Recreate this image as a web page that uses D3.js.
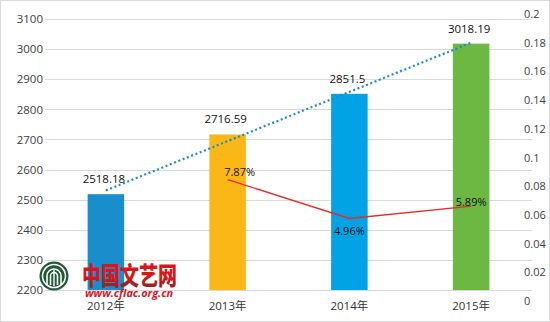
<!DOCTYPE html>
<html>
<head>
<meta charset="utf-8">
<script src="https://cdn.jsdelivr.net/npm/d3@7"></script>
<style>
  html, body { margin: 0; padding: 0; background: #fff; }
  svg { display: block; }
  text { font-family: "Open Sans", "Noto Sans CJK SC", sans-serif; }
</style>
</head>
<body>
<svg id="chart" width="550" height="322"></svg>
<script>
// Annual totals (bars) and year-on-year growth (red line)
const years = ["2012年", "2013年", "2014年", "2015年"];
const totals = [2518.18, 2716.59, 2851.5, 3018.19];
const totalLabels = ["2518.18", "2716.59", "2851.5", "3018.19"];
const barColors = ["#1a8dcd", "#fbb716", "#02a3e4", "#6db843"];
const growthYears = ["2013年", "2014年", "2015年"];
const growth = [0.0787, 0.0496, 0.0589];
const growthLabels = ["7.87%", "4.96%", "5.89%"];
const leftTicks = [2200, 2300, 2400, 2500, 2600, 2700, 2800, 2900, 3000, 3100];
const rightTicks = [0, 0.02, 0.04, 0.06, 0.08, 0.1, 0.12, 0.14, 0.16, 0.18, 0.2];

const svg = d3.select("#chart");
const W = 550, H = 322;
const plot = { left: 45, right: 532, top: 19, bottom: 290 };

// outer frame
svg.append("rect")
  .attr("x", 0.5).attr("y", 0.5)
  .attr("width", W - 1).attr("height", H - 1)
  .attr("fill", "#fff").attr("stroke", "#d9d9d9");

const x = d3.scaleBand()
  .domain(years)
  .range([plot.left, plot.right])
  .paddingInner(0.7)
  .paddingOuter(0.35);

const y = d3.scaleLinear().domain([2200, 3100]).range([plot.bottom, plot.top]);
const y2 = d3.scaleLinear().domain([0, 0.2]).range([285, 17]);
// secondary axis text sits on its own spacing
const y2Axis = d3.scaleLinear().domain([0, 0.2]).range([301, 14]);

// grid
svg.append("g").selectAll("line")
  .data(leftTicks)
  .join("line")
  .attr("x1", plot.left).attr("x2", plot.right)
  .attr("y1", d => Math.round(y(d)) + 0.5).attr("y2", d => Math.round(y(d)) + 0.5)
  .attr("stroke", "#d9d9d9").attr("stroke-width", 1);

// left axis
const leftAxis = svg.append("g")
  .attr("transform", `translate(${plot.left - 2},0)`)
  .call(d3.axisLeft(y).tickValues(leftTicks).tickSize(0).tickPadding(0).tickFormat(d3.format("d")));
leftAxis.select(".domain").remove();
leftAxis.selectAll("text")
  .attr("font-size", 11.5).attr("fill", "#404040")
  .attr("font-family", "Open Sans, sans-serif");

// right axis
const rightAxis = svg.append("g")
  .attr("transform", `translate(524,0)`)
  .call(d3.axisRight(y2Axis).tickValues(rightTicks).tickSize(0).tickPadding(0)
    .tickFormat(d => d === 0 ? "0" : String(+d.toFixed(2))));
rightAxis.select(".domain").remove();
rightAxis.selectAll("text")
  .attr("font-size", 11).attr("fill", "#404040")
  .attr("font-family", "Open Sans, sans-serif");

// bars
svg.append("g").selectAll("rect")
  .data(years)
  .join("rect")
  .attr("x", d => x(d))
  .attr("y", (d, i) => y(totals[i]))
  .attr("width", x.bandwidth())
  .attr("height", (d, i) => y(2200) - y(totals[i]))
  .attr("fill", (d, i) => barColors[i]);

// bar value labels
svg.append("g").selectAll("text")
  .data(years)
  .join("text")
  .attr("x", d => x(d) + x.bandwidth() / 2 - 2)
  .attr("y", (d, i) => y(totals[i]) - 11)
  .attr("text-anchor", "middle")
  .attr("font-size", 11.5).attr("font-weight", 500).attr("fill", "#111")
  .text((d, i) => totalLabels[i]);

// linear trend over the bar totals
const xs = totals.map((d, i) => i + 1);
const mx = d3.mean(xs), my = d3.mean(totals);
const slope = d3.sum(xs, (v, i) => (v - mx) * (totals[i] - my)) / d3.sum(xs, v => (v - mx) ** 2);
const icpt = my - slope * mx;
const cx = d => x(d) + x.bandwidth() / 2;
svg.append("line")
  .attr("x1", cx(years[0])).attr("y1", y(icpt + slope * 1))
  .attr("x2", cx(years[3])).attr("y2", y(icpt + slope * 4))
  .attr("stroke", "#1a8dcd").attr("stroke-width", 2.2)
  .attr("stroke-dasharray", "2,2.6");

// growth line
const line = d3.line()
  .x((d, i) => cx(growthYears[i]))
  .y(d => y2(d));
svg.append("path")
  .datum(growth)
  .attr("d", line)
  .attr("fill", "none").attr("stroke", "#ec2a24").attr("stroke-width", 1.4);

// growth labels
const gOffsets = [[12, -4], [0, 16], [0, 0]];
svg.append("g").selectAll("text")
  .data(growth)
  .join("text")
  .attr("x", (d, i) => cx(growthYears[i]) + gOffsets[i][0])
  .attr("y", (d, i) => y2(d) + gOffsets[i][1])
  .attr("text-anchor", "middle")
  .attr("font-size", 11).attr("font-weight", 500).attr("fill", "#111")
  .text((d, i) => growthLabels[i]);

// category labels
svg.append("g").selectAll("text")
  .data(years)
  .join("text")
  .attr("x", d => cx(d))
  .attr("y", 310)
  .attr("text-anchor", "middle")
  .attr("font-size", 11.5).attr("fill", "#333")
  .text(d => d);

// site mark
const mark = svg.append("g");
const defs = svg.append("defs");
const grad = defs.append("linearGradient").attr("id", "redfade")
  .attr("x1", 0).attr("y1", 0).attr("x2", 0).attr("y2", 1);
grad.append("stop").attr("offset", "0%").attr("stop-color", "#d9161c");
grad.append("stop").attr("offset", "55%").attr("stop-color", "#d9161c");
grad.append("stop").attr("offset", "100%").attr("stop-color", "#6e2a2a");

mark.append("circle").attr("cx", 54).attr("cy", 276).attr("r", 14.5).attr("fill", "#1f5a33");
mark.append("circle").attr("cx", 54).attr("cy", 276).attr("r", 11.5)
  .attr("fill", "none").attr("stroke", "#fff").attr("stroke-width", 1.6);
[3.5, 7].forEach(r => {
  mark.append("path")
    .attr("d", `M${54 - r},285 L${54 - r},276 A${r},${r} 0 0 1 ${54 + r},276 L${54 + r},285`)
    .attr("fill", "none").attr("stroke", "#fff").attr("stroke-width", 1.6);
});
mark.append("line").attr("x1", 54).attr("x2", 54).attr("y1", 270).attr("y2", 286)
  .attr("stroke", "#fff").attr("stroke-width", 1.4);

mark.append("text")
  .attr("x", 82).attr("y", 285)
  .attr("font-family", "Noto Sans CJK SC, sans-serif")
  .attr("font-size", 25).attr("font-weight", 900)
  .attr("textLength", 95).attr("lengthAdjust", "spacingAndGlyphs")
  .attr("fill", "url(#redfade)")
  .text("中国文艺网");
mark.append("text")
  .attr("x", 85).attr("y", 297)
  .attr("font-family", "DejaVu Serif, serif")
  .attr("font-size", 10.5).attr("font-weight", 700).attr("font-style", "italic")
  .attr("textLength", 88).attr("lengthAdjust", "spacingAndGlyphs")
  .attr("fill", "#d9161c")
  .text("www.cflac.org.cn");
</script>
</body>
</html>
